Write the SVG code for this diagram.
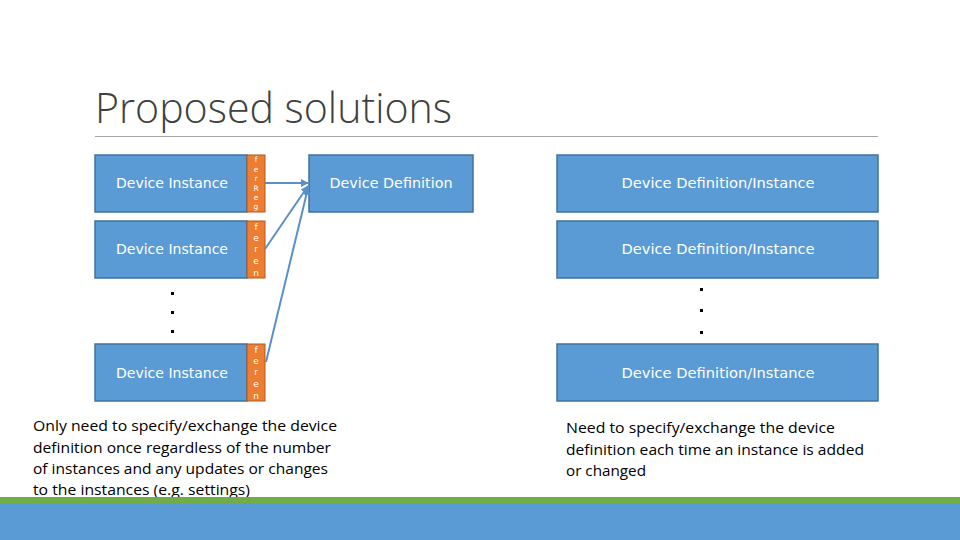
<svg xmlns="http://www.w3.org/2000/svg" width="960" height="540" viewBox="0 0 960 540">
<style>
.box{fill:#5b9bd5;stroke:#41719c;stroke-width:1.5}
.tab{fill:#ed7d31;stroke:#ae5a21;stroke-width:1}
.lbl{font-family:"DejaVu Sans","Liberation Sans",sans-serif;font-size:14px;fill:#ffffff;text-anchor:middle}
.tl{font-family:"DejaVu Sans",sans-serif;font-size:9px;fill:#ffffff;text-anchor:middle}
.tl1{font-family:"DejaVu Sans",sans-serif;font-size:7.5px;fill:#ffffff;text-anchor:middle}
.body{font-family:"Open Sans","Liberation Sans",sans-serif;font-size:15px;fill:#000000}
.dot{fill:#000000}
.conn{stroke:#5b8fc9;stroke-width:2;fill:none}
</style>
<defs>
<marker id="ah" viewBox="0 0 10 10" refX="9" refY="5" markerWidth="4" markerHeight="4" orient="auto" markerUnits="strokeWidth">
<path d="M0,0 L10,5 L0,10 z" fill="#5b8fc9"/>
</marker>
</defs>
<rect width="960" height="540" fill="#ffffff"/>
<text x="95" y="123" font-family="'Open Sans','Noto Sans',sans-serif" font-size="42" font-weight="300" fill="#404040" textLength="357" lengthAdjust="spacingAndGlyphs">Proposed solutions</text>
<line x1="95" y1="136.5" x2="878" y2="136.5" stroke="#a6a6a6" stroke-width="1"/>

<g id="inst1">
<rect class="box" x="95" y="155" width="152" height="57"/>
<text class="lbl" x="172" y="188" textLength="112" lengthAdjust="spacingAndGlyphs">Device Instance</text>
<rect class="tab" x="247" y="155" width="18" height="57"/>
<text class="tl1" x="256" y="162">f</text><text class="tl1" x="256" y="171.5">e</text><text class="tl1" x="256" y="181">r</text><text class="tl1" x="256" y="190.5">R</text><text class="tl1" x="256" y="200">e</text><text class="tl1" x="256" y="209">g</text>
</g>
<g id="inst2">
<rect class="box" x="95" y="221" width="152" height="57"/>
<text class="lbl" x="172" y="254" textLength="112" lengthAdjust="spacingAndGlyphs">Device Instance</text>
<rect class="tab" x="247" y="221" width="18" height="57"/>
<text class="tl" x="256" y="230">f</text><text class="tl" x="256" y="241">e</text><text class="tl" x="256" y="252">r</text><text class="tl" x="256" y="264">e</text><text class="tl" x="256" y="276">n</text>
</g>
<g id="dotsL">
<rect class="dot" x="171" y="292" width="3" height="3"/>
<rect class="dot" x="171" y="311" width="3" height="3"/>
<rect class="dot" x="171" y="330" width="3" height="3"/>
</g>
<g id="inst3">
<rect class="box" x="95" y="344" width="152" height="57"/>
<text class="lbl" x="172" y="378" textLength="112" lengthAdjust="spacingAndGlyphs">Device Instance</text>
<rect class="tab" x="247" y="344" width="18" height="57"/>
<text class="tl" x="256" y="353">f</text><text class="tl" x="256" y="364">e</text><text class="tl" x="256" y="375">r</text><text class="tl" x="256" y="387">e</text><text class="tl" x="256" y="399">n</text>
</g>
<g id="def">
<rect class="box" x="309" y="155" width="164" height="57"/>
<text class="lbl" x="391" y="188" textLength="123" lengthAdjust="spacingAndGlyphs">Device Definition</text>
</g>

<g id="connectors">
<line class="conn" x1="265" y1="183" x2="308" y2="183" marker-end="url(#ah)"/>
<line class="conn" x1="265" y1="249" x2="308" y2="186" marker-end="url(#ah)"/>
<line class="conn" x1="266" y1="362" x2="308" y2="188" marker-end="url(#ah)"/>
</g>

<g id="di1">
<rect class="box" x="557" y="155" width="321" height="57"/>
<text class="lbl" x="718" y="188" textLength="193" lengthAdjust="spacingAndGlyphs">Device Definition/Instance</text>
</g>
<g id="di2">
<rect class="box" x="557" y="221" width="321" height="57"/>
<text class="lbl" x="718" y="254" textLength="193" lengthAdjust="spacingAndGlyphs">Device Definition/Instance</text>
</g>
<g id="dotsR">
<rect class="dot" x="700" y="288" width="3" height="3"/>
<rect class="dot" x="700" y="309" width="3" height="3"/>
<rect class="dot" x="700" y="331" width="3" height="3"/>
</g>
<g id="di3">
<rect class="box" x="557" y="344" width="321" height="57"/>
<text class="lbl" x="718" y="378" textLength="193" lengthAdjust="spacingAndGlyphs">Device Definition/Instance</text>
</g>

<g id="noteL">
<text class="body" x="33" y="431" textLength="304" lengthAdjust="spacingAndGlyphs">Only need to specify/exchange the device</text>
<text class="body" x="33" y="453" textLength="298" lengthAdjust="spacingAndGlyphs">definition once regardless of the number</text>
<text class="body" x="33" y="474" textLength="295" lengthAdjust="spacingAndGlyphs">of instances and any updates or changes</text>
<text class="body" x="33" y="495" textLength="217" lengthAdjust="spacingAndGlyphs">to the instances (e.g. settings)</text>
</g>
<g id="noteR">
<text class="body" x="566" y="433" textLength="269" lengthAdjust="spacingAndGlyphs">Need to specify/exchange the device</text>
<text class="body" x="566" y="455" textLength="298" lengthAdjust="spacingAndGlyphs">definition each time an instance is added</text>
<text class="body" x="566" y="476" textLength="80" lengthAdjust="spacingAndGlyphs">or changed</text>
</g>

<rect x="0" y="497" width="960" height="7" fill="#70ad47"/>
<rect x="0" y="504" width="960" height="36" fill="#5b9bd5"/>
</svg>
